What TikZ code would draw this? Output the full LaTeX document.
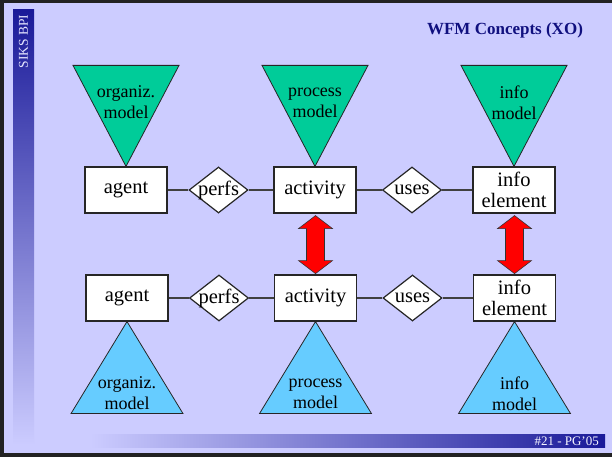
\documentclass[tikz,border=0pt]{standalone}
\usepackage{fontspec}
\setmainfont{Liberation Serif}
\usetikzlibrary{shapes.geometric,calc,backgrounds}
\definecolor{bg}{HTML}{CCCCFF}
\definecolor{navy}{HTML}{1A1A99}
\definecolor{titleblue}{HTML}{10107F}
\definecolor{green1}{HTML}{00CC99}
\definecolor{blue1}{HTML}{66CCFF}
\definecolor{framec}{HTML}{222222}
\begin{document}
\begin{tikzpicture}[x=1pt,y=1pt,
 ent/.style={draw=black!85, line width=1.2pt, fill=white, minimum width=82pt, minimum height=46pt, inner sep=0pt, align=center, font=\fontsize{20.5}{22}\selectfont},
 rel/.style={diamond, draw=black!85, line width=1.2pt, fill=white, minimum width=59pt, minimum height=46pt, inner sep=0pt},
 rellbl/.style={font=\fontsize{20.5}{22}\selectfont, inner sep=0pt},
 link/.style={draw=black!75, line width=1.2pt},
 gtri/.style={fill=green1, draw=black!85, line width=0.8pt},
 btri/.style={fill=blue1, draw=black!85, line width=0.8pt},
 tritext/.style={align=center, font=\fontsize{18}{21}\selectfont, inner sep=0pt},
 bigarrow/.style={fill=red, draw=black!80, line width=0.6pt, line join=miter},
]
\useasboundingbox (0,0) rectangle (612,457);
% entities and relationships
\node[ent] (agT) at (126,267) {agent};
\node[rel, label={[rellbl]center:perfs}] (peT) at (218.5,267) {};
\node[ent] (acT) at (315,267) {activity};
\node[rel, label={[rellbl]center:uses}] (usT) at (412,267) {};
\node[ent] (inT) at (514,267) {info\\[-1pt]element};
\node[ent] (agB) at (127,159) {agent};
\node[rel, label={[rellbl]center:perfs}] (peB) at (219,159) {};
\node[ent] (acB) at (315.5,159) {activity};
\node[rel, label={[rellbl]center:uses}] (usB) at (412.5,159) {};
\node[ent] (inB) at (514.5,159) {info\\[-1pt]element};
\begin{scope}[on background layer]
 \fill[bg] (0,0) rectangle (612,457);
 \shade[top color=navy, bottom color=bg] (13,12) rectangle (34,447);
 \shade[left color=bg, right color=navy] (90,9) rectangle (605,22);
 \draw[framec, line width=3.5pt] (612,1.75) -- (1.75,1.75) -- (1.75,455.25) -- (612,455.25);
 \foreach \n in {agT,acT,inT} {
  \draw[gtri] (\n.north) -- ++(-53,101) -- ++(106,0) -- cycle;
 }
 \foreach \n in {agB,acB,inB} {
  \draw[btri] (\n.south) -- ++(-56,-92) -- ++(112,0) -- cycle;
 }
\end{scope}
% triangle texts
\node[tritext] (gtA) at ($(agT.north)+(0,64)$) {organiz.\\model};
\node[tritext] (gtP) at ($(acT.north)+(0,64)$) {process\\model};
\node[tritext] (gtI) at ($(inT.north)+(0,64)$) {info\\model};
\node[tritext] (btA) at ($(agB.south)+(0,-72)$) {organiz.\\model};
\node[tritext] (btP) at ($(acB.south)+(0,-72)$) {process\\model};
\node[tritext] (btI) at ($(inB.south)+(0,-72)$) {info\\model};
% links
\draw[link] (agT) -- (peT) -- (acT) -- (usT) -- (inT);
\draw[link] (agB) -- (peB) -- (acB) -- (usB) -- (inB);
% red double arrows
\foreach \a/\b in {acT/acB, inT/inB} {
 \draw[bigarrow] ($(\a.south)+(0.5,-2)$) -- ++(-17,-13) -- ++(8,0) -- ++(0,-32) -- ++(-8,0) -- ++(17,-13) -- ++(17,13) -- ++(-8,0) -- ++(0,32) -- ++(8,0) -- cycle;
}
% titles
\node[font=\bfseries\fontsize{17}{19}\selectfont, text=titleblue] (title) at (505,427) {WFM Concepts (XO)};
\node[rotate=90, text=bg!50!white, font=\fontsize{13.5}{14}\selectfont] (siks) at (23.5,415.5) {SIKS BPI};
\node[anchor=east, text=white!85!bg, font=\fontsize{13}{14}\selectfont, inner sep=0pt] (foot) at (599,15.5) {\#21 - PG'05};
\end{tikzpicture}
\end{document}
